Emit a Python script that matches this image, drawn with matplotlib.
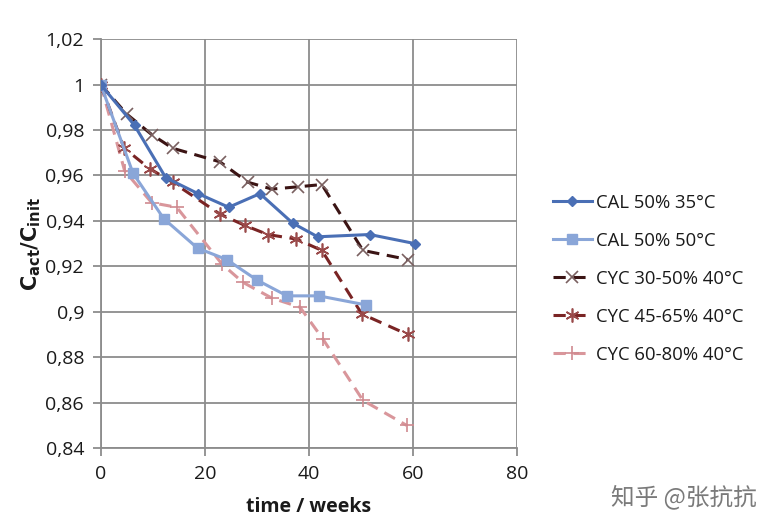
import matplotlib
matplotlib.use("Agg")
import matplotlib.pyplot as plt
from matplotlib.ticker import FixedLocator

# Data
cal35_x = [0, 6.5, 12.5, 18.7, 24.6, 30.6, 36.9, 41.7, 51.7, 60.4]
cal35_y = [1.0, 0.982, 0.959, 0.952, 0.946, 0.952, 0.939, 0.933, 0.934, 0.930]

cal50_x = [0, 6.2, 12.1, 18.6, 24.2, 30.0, 35.8, 41.9, 51.0]
cal50_y = [1.0, 0.961, 0.941, 0.928, 0.923, 0.914, 0.907, 0.907, 0.903]

cyc3050_x = [0, 5.0, 9.8, 13.8, 22.9, 28.3, 32.9, 37.9, 42.5, 50.4, 59.0]
cyc3050_y = [1.0, 0.987, 0.978, 0.972, 0.966, 0.957, 0.954, 0.955, 0.956, 0.927, 0.923]

cyc4565_x = [0, 4.5, 9.4, 13.8, 22.9, 27.7, 32.1, 37.6, 42.5, 50.2, 59.0]
cyc4565_y = [1.0, 0.972, 0.963, 0.957, 0.943, 0.938, 0.934, 0.932, 0.927, 0.899, 0.890]

cyc6080_x = [0, 4.6, 9.8, 14.6, 23.3, 27.3, 32.9, 38.3, 42.7, 50.4, 58.8]
cyc6080_y = [1.0, 0.962, 0.948, 0.946, 0.921, 0.913, 0.906, 0.902, 0.888, 0.861, 0.850]

labels = ["CAL 50% 35°C", "CAL 50% 50°C", "CYC 30-50% 40°C", "CYC 45-65% 40°C", "CYC 60-80% 40°C"]
x_ticks = [0, 20, 40, 60, 80]
y_ticks = [0.84, 0.86, 0.88, 0.90, 0.92, 0.94, 0.96, 0.98, 1.00, 1.02]
y_ticklabels = ["0,84", "0,86", "0,88", "0,9", "0,92", "0,94", "0,96", "0,98", "1", "1,02"]

plt.rcParams['font.family'] = ['Open Sans', 'DejaVu Sans']

fig = plt.figure(figsize=(7.75, 5.29), dpi=100)
ax = fig.add_axes([0.130, 0.153, 0.537, 0.773])

c1 = "#4a6fb5"
c2 = "#8aa6d8"
c3 = "#3b1414"
c4 = "#7a2424"
c5 = "#d9969b"

ax.plot(cal35_x, cal35_y, color=c1, lw=2.2, marker="D", ms=5, label=labels[0], zorder=5)
ax.plot(cal50_x, cal50_y, color=c2, lw=2.2, marker="s", ms=7, label=labels[1], zorder=4)
ax.plot(cyc3050_x, cyc3050_y, color=c3, lw=2.2, ls=(0, (4, 2.5)), marker="x", ms=8,
        mec="#7a6060", mew=1.2, label=labels[2], zorder=3)
ax.plot(cyc4565_x, cyc4565_y, color=c4, lw=2.2, ls=(0, (4, 2.5)), marker=(6, 2, 0), ms=10,
        mec="#9a4a4a", mew=1.2, label=labels[3], zorder=3)
ax.plot(cyc6080_x, cyc6080_y, color=c5, lw=2.2, ls=(0, (4, 2.5)), marker="+", ms=10,
        mec="#d08a90", mew=1.2, label=labels[4], zorder=2)

ax.set_xlim(0, 80)
ax.set_ylim(0.84, 1.02)
ax.xaxis.set_major_locator(FixedLocator(x_ticks))
ax.yaxis.set_major_locator(FixedLocator(y_ticks))
ax.set_xticklabels([str(v) for v in x_ticks])
ax.set_yticklabels(y_ticklabels)
ax.grid(True, color="#8c8c8c", lw=1.3)
ax.set_axisbelow(True)
for s in ["top", "right"]:
    ax.spines[s].set_visible(False)
for s in ["left", "bottom"]:
    ax.spines[s].set_color("#8c8c8c")
    ax.spines[s].set_linewidth(1.3)
ax.tick_params(axis="both", colors="#8c8c8c", labelcolor="#1a1a1a", labelsize=14,
               length=6, width=1.3, direction="out", pad=6)

ax.set_xlabel("time / weeks", fontsize=14, fontweight="bold", labelpad=10, color="#1a1a1a")
ax.set_ylabel(r"$\mathbf{C_{act}/C_{init}}$", fontsize=15, labelpad=2, color="#1a1a1a")

leg = fig.legend(loc="center left", bbox_to_anchor=(0.692, 0.473), frameon=False,
                 fontsize=13.3, handlelength=2.1, handletextpad=0.25, labelspacing=1.08)
for t in leg.get_texts():
    t.set_color("#1a1a1a")

fig.text(0.977, 0.06, "知乎 @张抗抗", ha="right", va="center", fontsize=17, color="#7a7a7a",
         family=["Noto Sans CJK SC", "DejaVu Sans"])

fig.savefig("out.png", dpi=100)
